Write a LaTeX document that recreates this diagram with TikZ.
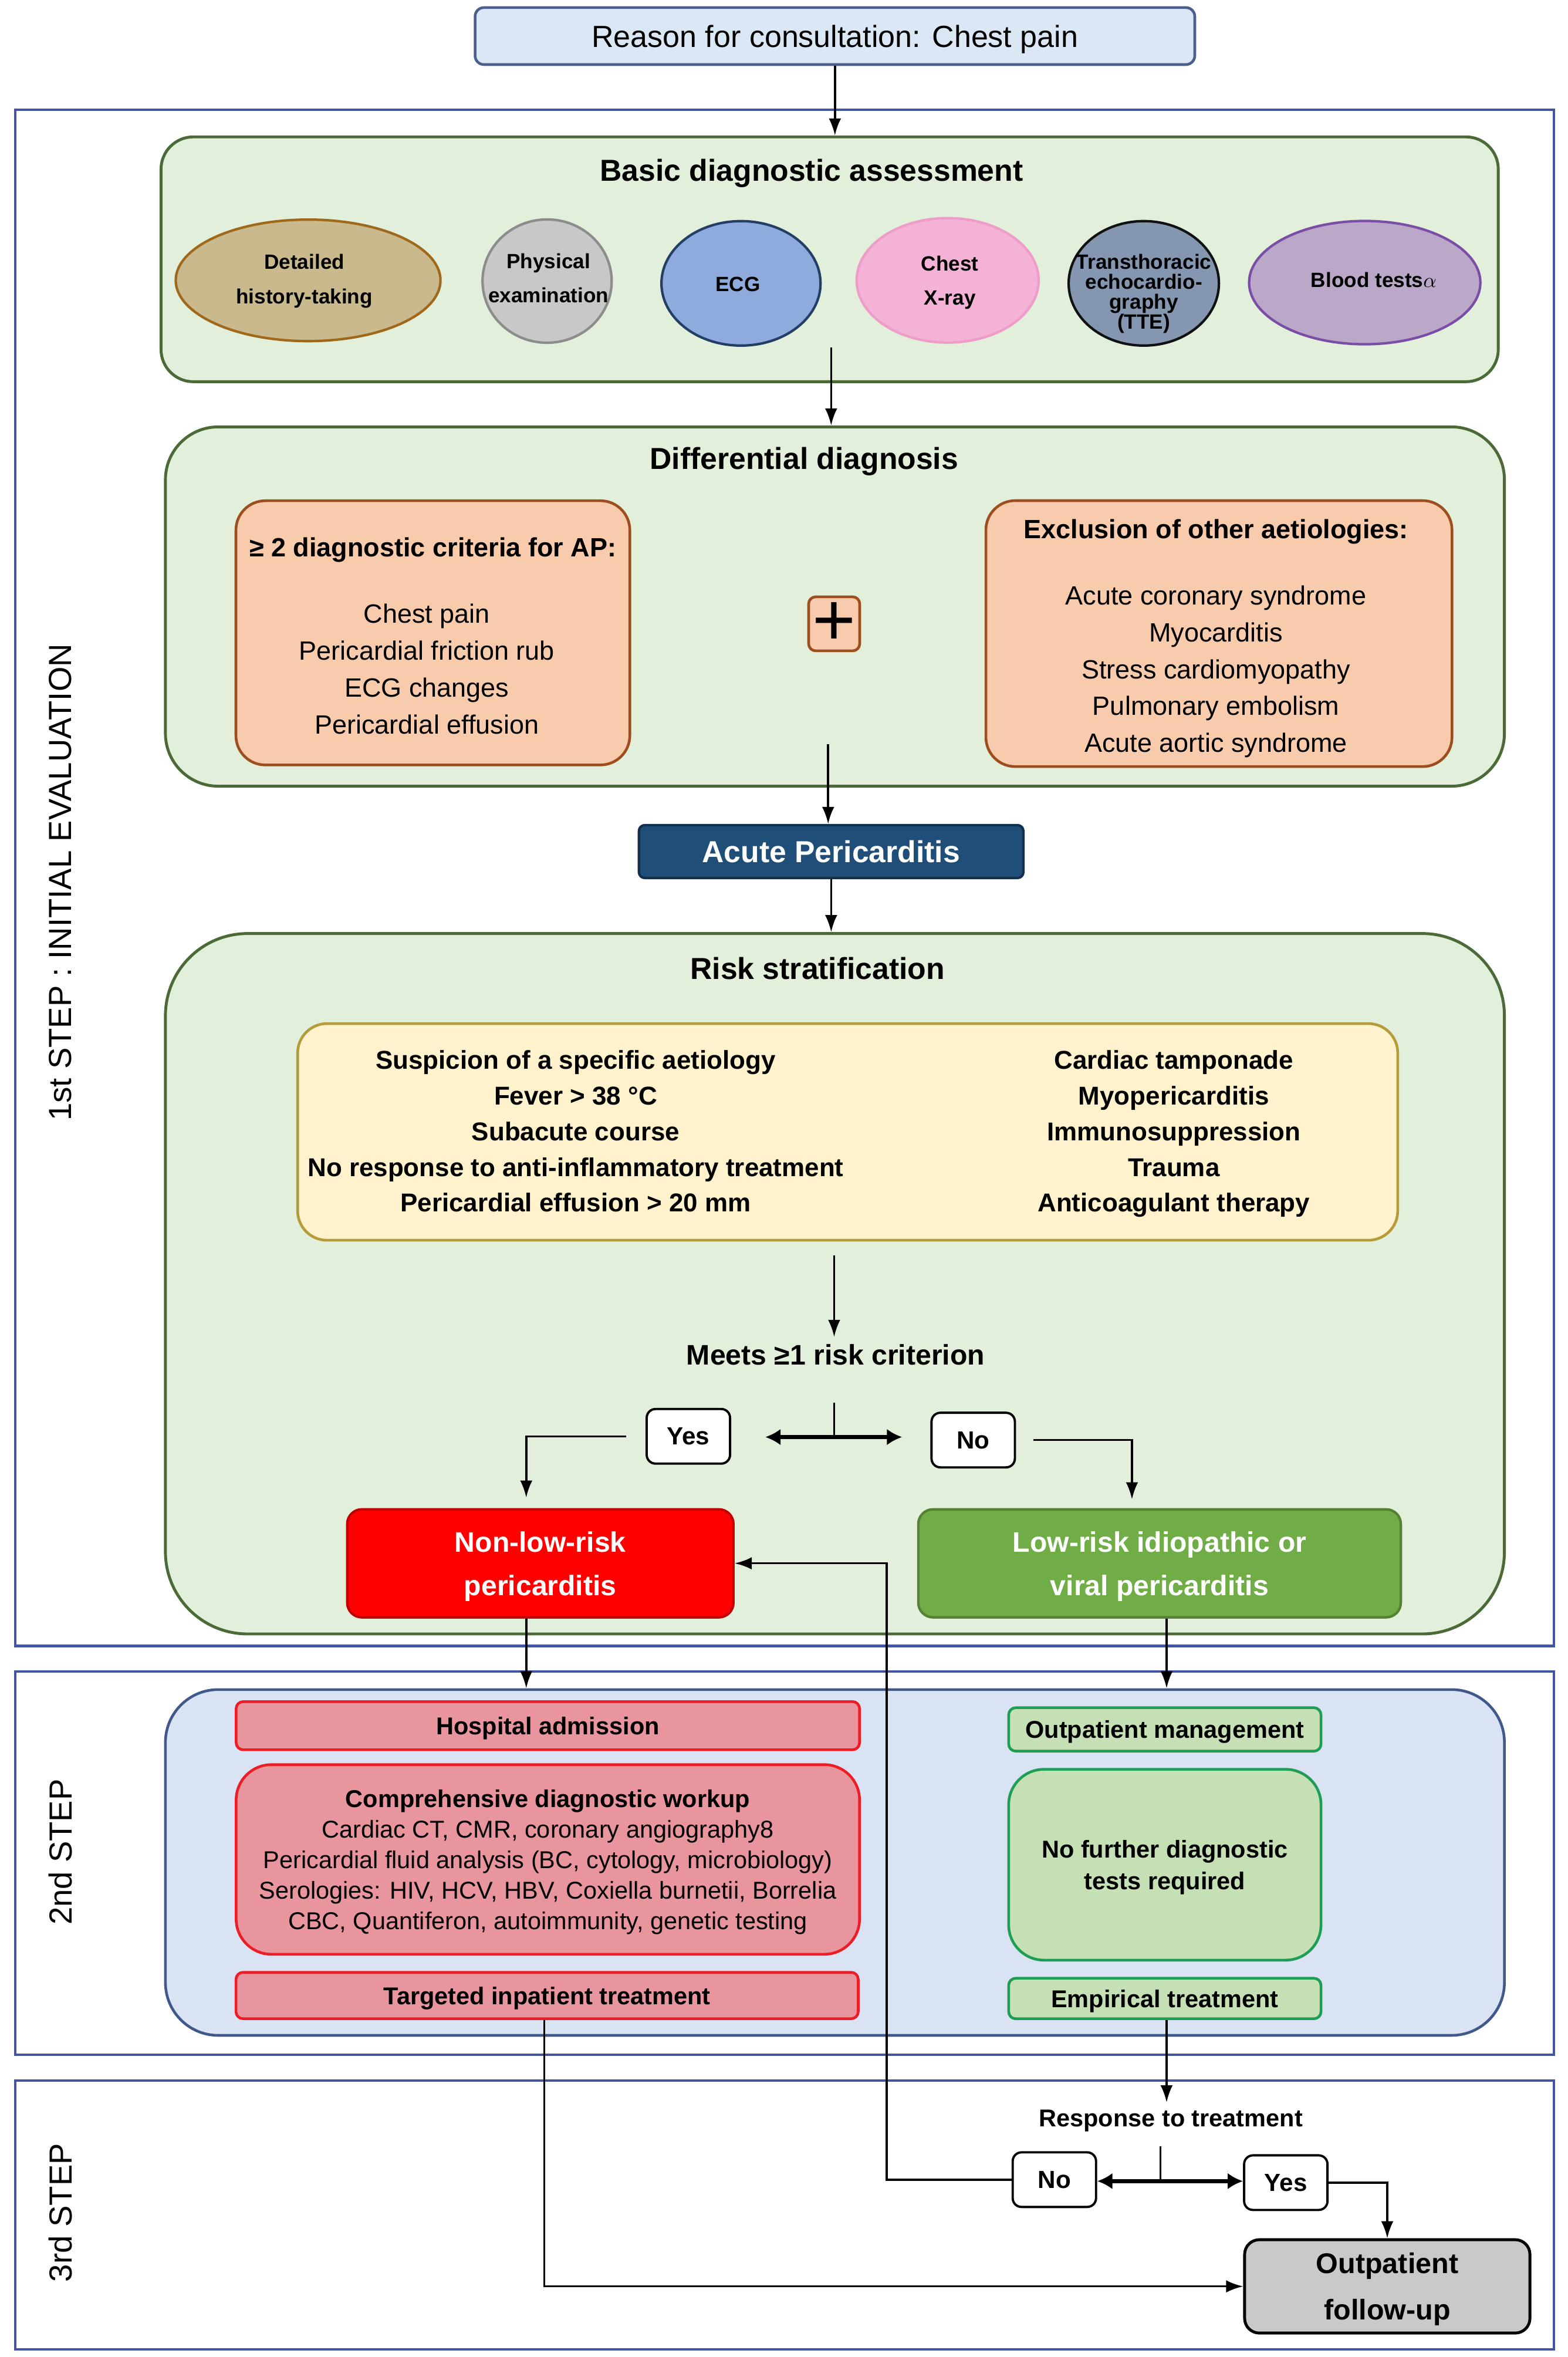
\documentclass[tikz,border=0pt]{standalone}
\usepackage{fontspec}
\setmainfont{Liberation Sans}
\usetikzlibrary{arrows.meta,positioning,shapes.geometric,calc}

\definecolor{frameBlue}{HTML}{4354A3}
\definecolor{panelFill}{HTML}{E2EFDA}
\definecolor{panelLine}{HTML}{4B6A38}
\definecolor{consultFill}{HTML}{DCE7F5}
\definecolor{consultLine}{HTML}{4A5F8E}
\definecolor{orFill}{HTML}{F8CBAD}
\definecolor{orLine}{HTML}{9E4E1E}
\definecolor{ylFill}{HTML}{FFF2CC}
\definecolor{ylLine}{HTML}{B59B3A}
\definecolor{acuteFill}{HTML}{1F4E79}
\definecolor{acuteLine}{HTML}{12304D}
\definecolor{redFill}{HTML}{FF0000}
\definecolor{redLine}{HTML}{C00000}
\definecolor{lgFill}{HTML}{70AD47}
\definecolor{lgLine}{HTML}{548235}
\definecolor{blueFill}{HTML}{DAE3F3}
\definecolor{blueLine}{HTML}{41598A}
\definecolor{pinkFill}{HTML}{E8959E}
\definecolor{pinkLine}{HTML}{EE1C25}
\definecolor{mintFill}{HTML}{C5E0B4}
\definecolor{mintLine}{HTML}{1E9E55}
\definecolor{greyFill}{HTML}{C9C9C9}
% ellipse colours
\definecolor{eTanF}{HTML}{C9B98C}
\definecolor{eTanL}{HTML}{A0681A}
\definecolor{eGreyF}{HTML}{C8C8C8}
\definecolor{eGreyL}{HTML}{8C8C8C}
\definecolor{eBlueF}{HTML}{8FAADC}
\definecolor{eBlueL}{HTML}{243F66}
\definecolor{ePinkF}{HTML}{F4B2D6}
\definecolor{ePinkL}{HTML}{EE9CC8}
\definecolor{eSlateF}{HTML}{8496B0}
\definecolor{eSlateL}{HTML}{111111}
\definecolor{eLilacF}{HTML}{BBA8C8}
\definecolor{eLilacL}{HTML}{7A4EA6}

\newcommand{\fsz}[2]{\fontsize{#1}{#2}\selectfont}

\tikzset{
	stepframe/.style={draw=frameBlue, line width=1.2pt, fill=white},
	panel/.style={draw=panelLine, fill=panelFill, line width=1.4pt},
	oval/.style={ellipse, inner sep=0, line width=1.2pt},
	ovaltxt/.style={align=center, font=\bfseries\fsz{10}{16.7}},
	orbox/.style={draw=orLine, fill=orFill, line width=1.3pt},
	pinkbox/.style={draw=pinkLine, fill=pinkFill, line width=1.3pt},
	mintbox/.style={draw=mintLine, fill=mintFill, line width=1.3pt},
	yn/.style={draw, fill=white, rounded corners=0.15cm, line width=1.1pt,
		minimum width=1.42cm, minimum height=0.93cm, font=\bfseries\fsz{12}{14}},
	arr/.style={-{Latex[length=2.9mm,width=2.1mm]}, line width=1pt},
	arrs/.style={-{Latex[length=2.6mm,width=2.8mm]}, line width=1.8pt}
}

\begin{document}
\begin{tikzpicture}[x=0.0256cm, y=-0.0256cm, every node/.append style={text depth=0pt}]
	\fill[white] (0,0) rectangle (1043,1568);
	\useasboundingbox (0,0) rectangle (1043,1568);
	
	% step frames
	\draw[stepframe] (10,73) rectangle (1034,1095);
	\draw[stepframe] (10,1112) rectangle (1034,1367);
	\draw[stepframe] (10,1384) rectangle (1034,1563);
	\node[rotate=90, font=\fsz{15.5}{18}] (l1) at (40,587) {1st STEP : INITIAL EVALUATION};
	\node[rotate=90, font=\fsz{15.5}{18}] (l2) at (40,1232) {2nd STEP};
	\node[rotate=90, font=\fsz{15.5}{18}] (l3) at (40,1472) {3rd STEP};
	
	\node[draw=consultLine, fill=consultFill, line width=1.3pt, rounded corners=0.15cm,
		minimum width=12.26cm, minimum height=0.97cm, font=\fsz{14.8}{17}] (rsn) at (555.5,24) {Reason for consultation: Chest pain};
	
	% basic assessment
	\node[panel, rounded corners=0.55cm, minimum width=22.78cm, minimum height=4.17cm] (basic) at (552,172.5) {};
	\node[font=\bfseries\fsz{14.7}{17}] (basicT) at (540,113) {Basic diagnostic assessment};
	\node[oval, draw=eTanL, fill=eTanF, minimum width=4.51cm, minimum height=2.07cm] (e1) at (205,186.5) {};
	\node[oval, draw=eGreyL, fill=eGreyF, minimum width=2.2cm, minimum height=2.1cm] (e2) at (364,187) {};
	\node[oval, draw=eBlueL, fill=eBlueF, minimum width=2.71cm, minimum height=2.12cm] (e3) at (493,188.5) {};
	\node[oval, draw=ePinkL, fill=ePinkF, minimum width=3.1cm, minimum height=2.12cm] (e4) at (630.5,186.5) {};
	\node[oval, draw=eSlateL, fill=eSlateF, minimum width=2.56cm, minimum height=2.12cm] (e5) at (761,188.5) {};
	\node[oval, draw=eLilacL, fill=eLilacF, minimum width=3.94cm, minimum height=2.1cm] (e6) at (908,188) {};
	\node[ovaltxt] (e1t) at (202.5,185.5) {Detailed\\history-taking};
	\node[ovaltxt] (e2t) at (365,185) {Physical\\examination};
	\node[ovaltxt] (e3t) at (491,189) {ECG};
	\node[ovaltxt] (e4t) at (632,186.5) {Chest\\X-ray};
	\node[ovaltxt, font=\bfseries\fsz{10}{9.7}] (e5t) at (761,194) {Transthoracic\\echocardio-\\graphy\\(TTE)};
	\node[ovaltxt] (e6t) at (914,186) {Blood tests$\alpha$};
	
	% differential diagnosis
	\node[panel, rounded corners=0.9cm, minimum width=22.81cm, minimum height=6.12cm] (diff) at (555.5,403.5) {};
	\node[font=\bfseries\fsz{14.7}{17}] (diffT) at (535,305) {Differential diagnosis};
	\node[orbox, rounded corners=0.5cm, minimum width=6.71cm, minimum height=4.5cm] (crit) at (288,421) {};
	\node[font=\bfseries\fsz{12.8}{18}] (critT) at (288,364) {≥ 2 diagnostic criteria for AP:};
	\node[font=\fsz{12.8}{17.96}, align=center] (critL) at (284,445) {Chest pain\\Pericardial friction rub\\ECG changes\\Pericardial effusion};
	\node[orbox, rounded corners=0.12cm, minimum width=0.87cm, minimum height=0.92cm, inner sep=0,
		font=\fsz{36}{36}] (plus) at (555,415) {+};
	\node[orbox, rounded corners=0.5cm, minimum width=7.94cm, minimum height=4.53cm] (excl) at (811,421.5) {};
	\node[font=\bfseries\fsz{12.8}{18}] (exclT) at (809,352) {Exclusion of other aetiologies:};
	\node[font=\fsz{12.8}{17.84}, align=center] (exclL) at (809,445) {Acute coronary syndrome\\Myocarditis\\Stress cardiomyopathy\\Pulmonary embolism\\Acute aortic syndrome};
	
	\node[draw=acuteLine, fill=acuteFill, line width=1.2pt, rounded corners=0.1cm, minimum width=6.55cm,
		minimum height=0.9cm, text=white, font=\bfseries\fsz{14.7}{17}] (acute) at (553,566.5) {Acute Pericarditis};
	
	% risk stratification
	\node[panel, rounded corners=1.4cm, minimum width=22.81cm, minimum height=11.93cm] (risk) at (555.5,854) {};
	\node[font=\bfseries\fsz{14.7}{17}] (riskT) at (544,644) {Risk stratification};
	\node[draw=ylLine, fill=ylFill, line width=1.3pt, rounded corners=0.5cm, minimum width=18.74cm,
		minimum height=3.69cm] (crit2) at (564,753) {};
	\node[font=\bfseries\fsz{12.5}{17.3}, align=center] (riskL) at (383,752.5) {Suspicion of a specific aetiology\\Fever > 38 °C\\Subacute course\\No response to anti-inflammatory treatment\\Pericardial effusion > 20 mm};
	\node[font=\bfseries\fsz{12.5}{17.3}, align=center] (riskR) at (781,752.5) {Cardiac tamponade\\Myopericarditis\\Immunosuppression\\Trauma\\Anticoagulant therapy};
	\node[font=\bfseries\fsz{13.7}{16}] (meets) at (556,901) {Meets ≥1 risk criterion};
	\node[yn] (yes1) at (458,955.5) {Yes};
	\node[yn] (no1) at (647.5,958) {No};
	\node[draw=redLine, fill=redFill, line width=1.2pt, rounded corners=0.25cm, minimum width=6.58cm,
		minimum height=1.84cm, text=white, align=center, font=\bfseries\fsz{13.7}{21}] (nonlow) at (359.5,1040) {Non-low-risk\\pericarditis};
	\node[draw=lgLine, fill=lgFill, line width=1.2pt, rounded corners=0.25cm, minimum width=8.22cm,
		minimum height=1.84cm, text=white, align=center, font=\bfseries\fsz{13.7}{21}] (low) at (771.5,1040) {Low-risk idiopathic or\\viral pericarditis};
	
	% 2nd step
	\node[draw=blueLine, fill=blueFill, line width=1.3pt, rounded corners=0.9cm, minimum width=22.81cm,
		minimum height=5.89cm] (s2) at (555.5,1239) {};
	\node[pinkbox, rounded corners=0.12cm, minimum width=10.62cm, minimum height=0.82cm,
		font=\bfseries\fsz{11.8}{14}] (hosp) at (364.5,1148) {Hospital admission};
	\node[pinkbox, rounded corners=0.6cm, minimum width=10.62cm, minimum height=3.23cm, align=center,
		font=\fsz{11.8}{14.75}] (compr) at (364.5,1237) {\textbf{Comprehensive diagnostic workup}\\Cardiac CT, CMR, coronary angiography8\\Pericardial fluid analysis (BC, cytology, microbiology)\\Serologies: HIV, HCV, HBV, Coxiella burnetii, Borrelia\\CBC, Quantiferon, autoimmunity, genetic testing};
	\node[pinkbox, rounded corners=0.12cm, minimum width=10.6cm, minimum height=0.79cm,
		font=\bfseries\fsz{11.8}{14}] (targ) at (364,1327.5) {Targeted inpatient treatment};
	\node[mintbox, rounded corners=0.12cm, minimum width=5.32cm, minimum height=0.74cm,
		font=\bfseries\fsz{11.8}{14}] (outm) at (775,1150.5) {Outpatient management};
	\node[mintbox, rounded corners=0.6cm, minimum width=5.32cm, minimum height=3.25cm, align=center,
		font=\bfseries\fsz{11.8}{15.3}] (nofur) at (775,1240.5) {No further diagnostic\\tests required};
	\node[mintbox, rounded corners=0.12cm, minimum width=5.32cm, minimum height=0.69cm,
		font=\bfseries\fsz{11.8}{14}] (empir) at (775,1329.5) {Empirical treatment};
	
	% 3rd step
	\node[font=\bfseries\fsz{11.8}{14}] (resp) at (779,1409) {Response to treatment};
	\node[yn] (no3) at (701.5,1450) {No};
	\node[yn] (yes3) at (855.5,1452) {Yes};
	\node[draw, fill=greyFill, line width=1.4pt, rounded corners=0.25cm, minimum width=4.86cm,
		minimum height=1.59cm, align=center, font=\bfseries\fsz{13.8}{22.6}] (follow) at (923,1521) {Outpatient\\follow-up};
	
	% connectors
	\coordinate (b1) at (553,231);
	\coordinate (d1) at (551,495);
	\coordinate (r1) at (555,835);
	\coordinate (r2) at (555,933);
	\coordinate (r3) at (555,956);
	\coordinate (q1) at (772,1428);
	\coordinate (q2) at (772,1451);
	
	\draw[arr] (rsn.south) -- (rsn.south |- basic.north);
	\draw[arr] (b1) -- (b1 |- diff.north);
	\draw[arr] (d1) -- (d1 |- acute.north);
	\draw[arr] (acute.south) -- (acute.south |- risk.north);
	\draw[arr] (r1) -- (r1 |- meets.north);
	\draw[line width=1pt] (r2) -- (r3);
	\draw[arrs, shorten >=0.58cm] (r3) -- (r3 -| yes1.east);
	\draw[arrs, shorten >=0.48cm] (r3) -- (r3 -| no1.west);
	\draw[arr, shorten <=0.33cm, shorten >=0.18cm] (yes1.west) -| ([xshift=-0.24cm]nonlow.north);
	\draw[arr, shorten <=0.3cm, shorten >=0.15cm] (no1.east) -| ([xshift=-0.47cm]low.north);
	\draw[arr] ([xshift=-0.24cm]nonlow.south) -- ([xshift=-0.24cm]nonlow.south |- s2.north);
	\draw[arr] ([xshift=0.12cm]low.south) -- ([xshift=0.12cm]low.south |- s2.north);
	\draw[arr] ([xshift=-0.05cm]targ.south) |- (follow.west);
	\draw[arr] ([xshift=0.03cm]empir.south) -- ([xshift=0.03cm]empir.south |- resp.north);
	\draw[line width=1pt] (q1) -- (q2);
	\draw[arrs] (q2) -- (q2 -| no3.east);
	\draw[arrs] (q2) -- (q2 -| yes3.west);
	\draw[arr] (no3.west) -- ++(-83,0) |- (nonlow.east);
	\draw[arr] (yes3.east) -| (follow.north);
\end{tikzpicture}
\end{document}
